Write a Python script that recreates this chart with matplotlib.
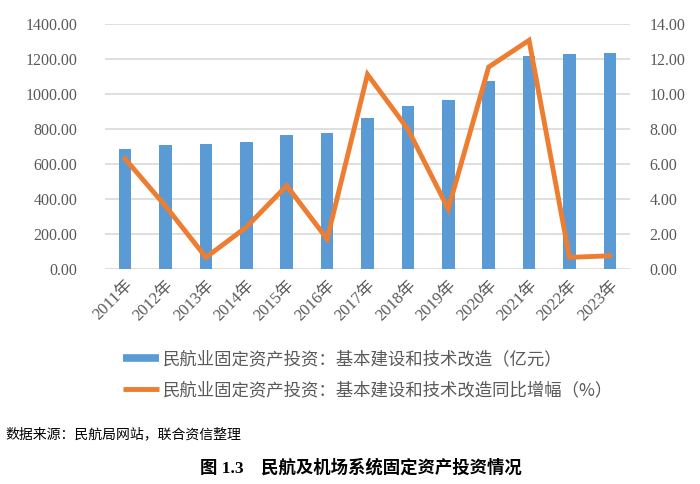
import matplotlib
matplotlib.use("Agg")
import matplotlib.pyplot as plt
from matplotlib.lines import Line2D

# data
years = ["2011年", "2012年", "2013年", "2014年", "2015年", "2016年", "2017年",
         "2018年", "2019年", "2020年", "2021年", "2022年", "2023年"]
invest = [684, 708, 714, 729, 766, 777, 865, 931, 967, 1078, 1217, 1229, 1238]
growth = [6.3, 3.6, 0.67, 2.4, 4.77, 1.72, 11.13, 8.0, 3.44, 11.55, 13.08, 0.67, 0.76]

bar_label = "民航业固定资产投资：基本建设和技术改造（亿元）"
line_label = "民航业固定资产投资：基本建设和技术改造同比增幅（%）"
source = "数据来源：民航局网站，联合资信整理"
title = "图 1.3    民航及机场系统固定资产投资情况"

serif = ["Liberation Serif", "Noto Sans CJK SC"]
cjk = ["Noto Sans CJK SC", "DejaVu Sans"]
grey = "#595959"
blue = "#5B9BD5"
orange = "#ED7D31"

fig = plt.figure(figsize=(7, 4.84), dpi=100)
ax = fig.add_axes([0.15, 0.444, 0.75, 0.506])
ax2 = ax.twinx()

x = list(range(len(years)))
ax.bar(x, invest, width=0.31, color=blue, zorder=2)
ax2.plot(x, growth, color=orange, linewidth=3.5, solid_joinstyle="miter", zorder=3)

ax.set_xlim(-0.5, len(years) - 0.5)
ax.set_ylim(0, 1400)
ax2.set_ylim(0, 14)
ax.set_yticks(range(0, 1401, 200))
ax2.set_yticks(range(0, 15, 2))
ax.set_yticklabels([f"{v:.2f}" for v in range(0, 1401, 200)], fontfamily=serif,
                   fontsize=11.5, color=grey)
ax2.set_yticklabels([f"{v:.2f}" for v in range(0, 15, 2)], fontfamily=serif,
                    fontsize=11.5, color=grey)
ax.set_xticks(x)
ax.set_xticklabels(years, rotation=45, ha="right", rotation_mode="anchor",
                   fontfamily=serif, fontsize=12, color=grey)

ax.grid(axis="y", color="#D9D9D9", linewidth=1.2, zorder=0)
ax.set_axisbelow(True)
for a in (ax, ax2):
    for s in a.spines.values():
        s.set_visible(False)
    a.tick_params(length=0)
ax.tick_params(axis="y", pad=20)
ax2.tick_params(axis="y", pad=14)
ax.tick_params(axis="x", pad=6)

handles = [Line2D([0], [0], color=blue, linewidth=5.5, solid_capstyle="butt"),
           Line2D([0], [0], color=orange, linewidth=3.5, solid_capstyle="butt")]
leg = fig.legend(handles, [bar_label, line_label], loc="upper left",
                 bbox_to_anchor=(0.163, 0.295), frameon=False, borderpad=0,
                 handlelength=2.1, handletextpad=0.2, labelspacing=0.75,
                 prop={"family": cjk, "size": 12.5})
for t in leg.get_texts():
    t.set_color(grey)

fig.text(0.008, 0.103, source, fontfamily=cjk, fontsize=10, color="black",
         va="center", ha="left")
fig.text(0.515, 0.033, title, fontfamily=serif, fontsize=12.5, fontweight="bold",
         color="black", va="center", ha="center")

fig.savefig("out.png", dpi=100)
